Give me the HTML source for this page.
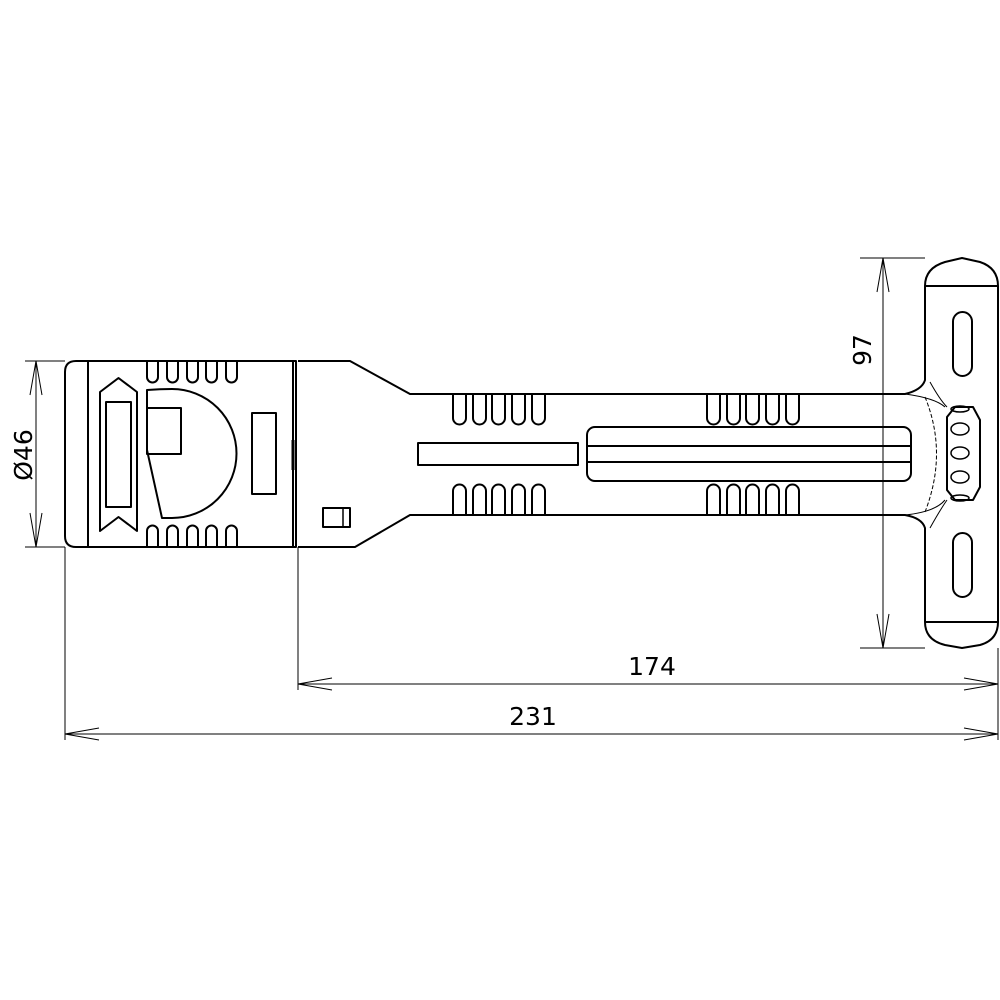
<!DOCTYPE html>
<html><head><meta charset="utf-8"><style>html,body{margin:0;padding:0;background:#fff}svg{display:block}</style></head>
<body>
<svg width="1000" height="1000" viewBox="0 0 1000 1000" xmlns="http://www.w3.org/2000/svg">
<g fill="none" stroke="#000" stroke-width="2" stroke-linejoin="round">
<!-- head -->
<path d="M76,361 H296 V547 H76 Q65,547 65,536 V372 Q65,361 76,361 Z"/>
<line x1="88" y1="361" x2="88" y2="547"/>
<line x1="293" y1="361" x2="293" y2="547"/>
<!-- head ribs -->
<g id="hr">
<path d="M147,361 V377 a5.5,5.5 0 0 0 11,0 V361"/>
<path d="M167,361 V377 a5.5,5.5 0 0 0 11,0 V361"/>
<path d="M187,361 V377 a5.5,5.5 0 0 0 11,0 V361"/>
<path d="M206,361 V377 a5.5,5.5 0 0 0 11,0 V361"/>
<path d="M226,361 V377 a5.5,5.5 0 0 0 11,0 V361"/>
</g>
<g transform="translate(0,908) scale(1,-1)"><use href="#hr"/></g>
<!-- arrow -->
<path d="M100,392 L118.5,378 L137,392 V531 L118.5,517 L100,531 Z"/>
<rect x="106" y="402" width="25" height="105"/>
<!-- D -->
<path d="M147,390 Q160,389 172,389 A64,64 0 0 1 172,518 L162,518 L147,450 Z"/>
<rect x="147" y="408" width="34" height="46"/>
<rect x="252" y="413" width="24" height="81"/>
<!-- neck and handle -->
<path d="M298,361 H350 L410,394 H905 Q922,390 925,380 V286"/>
<path d="M925,622 V528 Q922,518 905,515 H410 L355,547 H298"/>
<rect x="323" y="508" width="27" height="19"/>
<line x1="343" y1="508" x2="343" y2="527" stroke-width="1.5"/>
<rect x="418" y="443" width="160" height="22"/>
<rect x="587" y="427" width="324" height="54" rx="8"/>
<line x1="587" y1="446" x2="911" y2="446"/>
<line x1="587" y1="462" x2="911" y2="462"/>
<!-- handle ribs -->
<g id="r1">
<path d="M453,394 V418 a6.5,6.5 0 0 0 13,0 V394"/>
<path d="M473,394 V418 a6.5,6.5 0 0 0 13,0 V394"/>
<path d="M492,394 V418 a6.5,6.5 0 0 0 13,0 V394"/>
<path d="M512,394 V418 a6.5,6.5 0 0 0 13,0 V394"/>
<path d="M532,394 V418 a6.5,6.5 0 0 0 13,0 V394"/>
</g>
<g transform="translate(0,909) scale(1,-1)"><use href="#r1"/></g>
<g transform="translate(254,0)"><use href="#r1"/></g>
<g transform="translate(254,909) scale(1,-1)"><use href="#r1"/></g>
<!-- T bar -->
<path d="M925,286 Q925,268 945,262 L962,258 L980,262 Q998,268 998,286 V622 Q998,640 980,645 L962,648 L945,645 Q925,640 925,622"/>
<line x1="925" y1="286" x2="998" y2="286"/>
<line x1="925" y1="622" x2="998" y2="622"/>
<rect x="953" y="312" width="19" height="64" rx="9.5"/>
<rect x="953" y="533" width="19" height="64" rx="9.5"/>
<!-- knob -->
<path d="M955,407 H973 L980,420 V487 L973,500 H955 L947,490 V417 Z"/>
<ellipse cx="960" cy="409" rx="9" ry="3" stroke-width="1.5"/>
<ellipse cx="960" cy="429" rx="9" ry="6" stroke-width="1.5"/>
<ellipse cx="960" cy="453" rx="9" ry="6" stroke-width="1.5"/>
<ellipse cx="960" cy="477" rx="9" ry="6" stroke-width="1.5"/>
<ellipse cx="960" cy="498" rx="9" ry="3" stroke-width="1.5"/>
</g>
<g fill="none" stroke="#000" stroke-width="1">
<path d="M905,394 Q935,398 945,407 M930,382 Q940,400 947,407 M905,515 Q935,512 945,500 M930,528 Q940,510 947,500"/>
<path d="M925,397 Q948,453 925,512" stroke-dasharray="4,2"/>
<line x1="293" y1="440" x2="293" y2="470" stroke-width="3"/>
<!-- dims -->
<line x1="25" y1="361" x2="65" y2="361"/><line x1="25" y1="547" x2="65" y2="547"/>
<line x1="36" y1="361" x2="36" y2="547"/>
<path d="M30,395 L36,361 L42,395 M30,513 L36,547 L42,513"/>
<line x1="860" y1="258" x2="925" y2="258"/><line x1="860" y1="648" x2="925" y2="648"/>
<line x1="883" y1="258" x2="883" y2="648"/>
<path d="M877,292 L883,258 L889,292 M877,614 L883,648 L889,614"/>
<line x1="65" y1="547" x2="65" y2="740"/>
<line x1="298" y1="547" x2="298" y2="690"/>
<line x1="998" y1="648" x2="998" y2="740"/>
<line x1="298" y1="684" x2="998" y2="684"/>
<path d="M332,678 L298,684 L332,690 M964,678 L998,684 L964,690"/>
<line x1="65" y1="734" x2="998" y2="734"/>
<path d="M99,728 L65,734 L99,740 M964,728 L998,734 L964,740"/>
</g>
<g font-family="'DejaVu Sans','Liberation Sans',sans-serif" font-size="25" fill="#000" text-anchor="middle">
<text x="652" y="675">174</text>
<text x="533" y="725">231</text>
<text transform="translate(32,455) rotate(-90)">Ø46</text>
<text transform="translate(871,350) rotate(-90)">97</text>
</g>
</svg>
</body></html>
